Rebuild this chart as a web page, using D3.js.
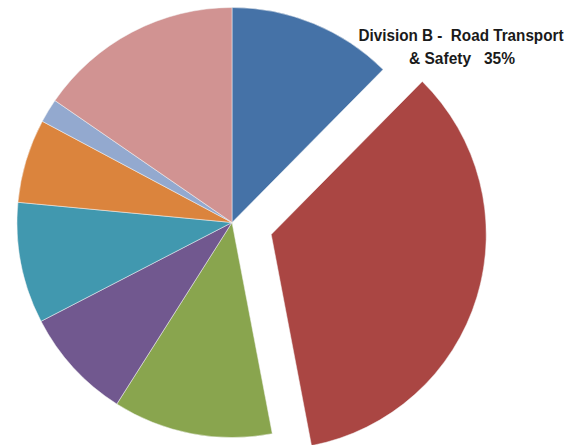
<!DOCTYPE html>
<html>
<head>
<meta charset="utf-8">
<script src="https://cdn.jsdelivr.net/npm/d3@7"></script>
<style>
  body { margin: 0; background: #fff; }
</style>
</head>
<body>
<div id="chart-area"></div>
<script>
// slices, clockwise from 12 o'clock
var divisions = ["Division A", "Division B - Road Transport & Safety", "Division C", "Division D",
                 "Division E", "Division F", "Division G", "Division H"];
var shares = [12.4, 34.6, 12.0, 8.4, 9.1, 6.3, 1.8, 15.4];
var colours = ["#4572A7", "#AA4643", "#89A54E", "#71588F", "#4198AF", "#DB843D", "#93A9CF", "#D19392"];
var labelLines = ["Division B -  Road Transport", "& Safety   35%"];

var width = 582, height = 445;
var cx = 232, cy = 222.5, radius = 215;
var explodeIndex = 1, explodeBy = 41;

var svg = d3.select("#chart-area").append("svg")
    .attr("width", width)
    .attr("height", height);

var pie = d3.pie().sort(null).value((d) => d);
var arc = d3.arc().innerRadius(0).outerRadius(radius);

var arcs = pie(shares);

var g = svg.append("g").attr("transform", "translate(" + cx + "," + cy + ")");

g.selectAll("path")
    .data(arcs)
    .enter().append("path")
    .attr("d", arc)
    .attr("fill", (d, i) => colours[i])
    .attr("stroke", "#f4f4f4")
    .attr("stroke-width", 0.5)
    .attr("transform", (d, i) => {
        if (i !== explodeIndex) return null;
        var mid = (d.startAngle + d.endAngle) / 2;
        return "translate(" + (Math.sin(mid) * explodeBy) + "," + (-Math.cos(mid) * explodeBy) + ")";
    });

var label = svg.append("g")
    .attr("font-family", "'Liberation Sans', Arial, sans-serif")
    .attr("font-weight", "bold")
    .attr("font-size", 16)
    .attr("fill", "#1a1a1a")
    .attr("text-anchor", "middle");

label.append("text")
    .attr("x", 461).attr("y", 41)
    .attr("textLength", 205).attr("lengthAdjust", "spacingAndGlyphs")
    .style("white-space", "pre")
    .text(labelLines[0]);

label.append("text")
    .attr("x", 462).attr("y", 64)
    .attr("textLength", 106).attr("lengthAdjust", "spacingAndGlyphs")
    .style("white-space", "pre")
    .text(labelLines[1]);
</script>
</body>
</html>
